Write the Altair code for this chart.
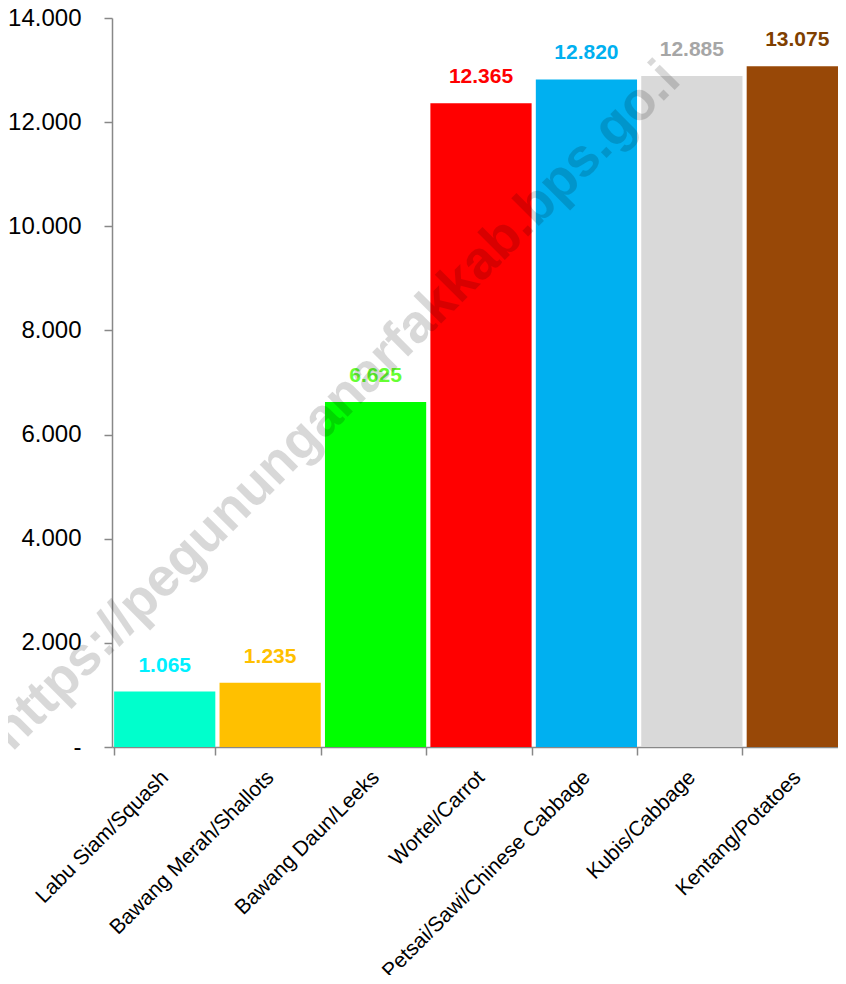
import altair as alt
import pandas as pd

categories = ["Labu Siam/Squash", "Bawang Merah/Shallots", "Bawang Daun/Leeks",
              "Wortel/Carrot", "Petsai/Sawi/Chinese Cabbage", "Kubis/Cabbage",
              "Kentang/Potatoes"]
values = [1065, 1235, 6625, 12365, 12820, 12885, 13075]
bar_colors = ["#00FFCC", "#FFC000", "#00FF00", "#FF0000", "#00B0F0", "#D9D9D9", "#984807"]
label_colors = ["#00F0FF", "#FFC000", "#66FF33", "#FF0000", "#00B0F0", "#A6A6A6", "#7F3F00"]
labels = ["1.065", "1.235", "6.625", "12.365", "12.820", "12.885", "13.075"]
watermark = "https://pegununganarfakkab.bps.go.i"

df = pd.DataFrame({"cat": categories, "val": values, "lab": labels})

W, H = 738, 729

x = alt.X("cat:N", sort=categories, title=None,
          scale=alt.Scale(paddingInner=0.04, paddingOuter=0.02),
          axis=alt.Axis(labelAngle=-45, labelAlign="right", labelBaseline="middle",
                        labelFont="Liberation Sans",
                        labelFontSize=21, labelColor="black", labelPadding=19,
                        tickBand="extent", tickSize=8, tickColor="#888888",
                        tickWidth=1.5, domainColor="#888888", domainWidth=1.5,
                        labelOverlap=False, labelLimit=400))
y = alt.Y("val:Q", title=None,
          scale=alt.Scale(domain=[0, 14000], nice=False),
          axis=alt.Axis(values=[0, 2000, 4000, 6000, 8000, 10000, 12000, 14000],
                        labelExpr="datum.value == 0 ? '-\u00a0\u00a0' : replace(format(datum.value, ','), ',', '.')",
                        labelFont="Liberation Sans", labelFontSize=24, labelColor="black",
                        labelPadding=23, tickSize=8, tickColor="#888888", tickWidth=1.5,
                        domainColor="#888888", domainWidth=1.5, grid=False))

bars = alt.Chart(df).mark_bar().encode(
    x=x, y=y,
    color=alt.Color("cat:N", scale=alt.Scale(domain=categories, range=bar_colors), legend=None),
)

texts = alt.Chart(df).mark_text(font="Liberation Sans", fontWeight="bold", fontSize=21,
                                baseline="alphabetic", dy=-20).encode(
    x=alt.X("cat:N", sort=categories),
    y=alt.Y("val:Q"),
    text="lab:N",
    color=alt.Color("cat:N", scale=alt.Scale(domain=categories, range=label_colors), legend=None),
)

wm = alt.Chart(pd.DataFrame({"t": [watermark]})).mark_text(
    font="Liberation Sans", fontWeight="bold", fontSize=54, angle=315,
    color="black", opacity=0.15, align="center", baseline="middle"
).encode(text="t:N", x=alt.value(224), y=alt.value(388))

chart = alt.layer(bars, texts, wm).resolve_scale(color="independent").properties(
    width=W, height=H,
    autosize=alt.AutoSizeParams(type="none"),
    padding={"left": 104, "top": 10, "right": -12, "bottom": 228},
).configure_view(stroke=None).configure_axis(grid=False)

chart.save("out.html", embed_options={"renderer": "svg", "actions": False})
